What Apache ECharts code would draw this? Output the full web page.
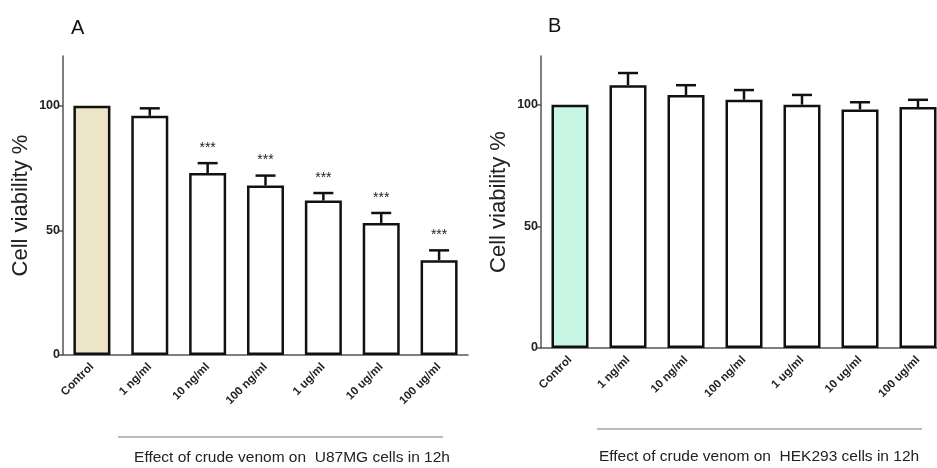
<!DOCTYPE html>
<html>
<head>
<meta charset="utf-8">
<script src="https://cdn.jsdelivr.net/npm/echarts@6/dist/echarts.min.js"></script>
<style>
html,body{margin:0;padding:0;background:#fff;overflow:hidden;}
#chart{width:960px;height:468px;}
</style>
</head>
<body>
<div id="chart"></div>
<script>
const categories = ['Control', '1 ng/ml', '10 ng/ml', '100 ng/ml', '1 ug/ml', '10 ug/ml', '100 ug/ml'];
const viabilityA = [100, 96, 73, 68, 62, 53, 38];
const errorA = [0, 3, 4, 4, 3, 4, 4];
const signifA = ['', '', '***', '***', '***', '***', '***'];
const viabilityB = [100, 108, 104, 102, 100, 98, 99];
const errorB = [0, 5, 4, 4, 4, 3, 3];
const signifB = ['', '', '', '', '', '', ''];
const yTicks = [0, 50, 100];
const panelTitles = ['A', 'B'];
const captions = ['Effect of crude venom on  U87MG cells in 12h', 'Effect of crude venom on  HEK293 cells in 12h'];
const yName = 'Cell viability %';

const FONT = 'Liberation Sans, Arial, sans-serif';
const axisColor = '#555';

function xAxisCfg(gi) {
  return {
    type: 'category', gridIndex: gi, data: categories,
    axisLine: { lineStyle: { color: axisColor, width: 1.5 } },
    axisTick: { alignWithLabel: true, length: 6, lineStyle: { color: axisColor, width: 1.5 } },
    axisLabel: { rotate: 45, margin: 10, fontFamily: FONT, fontWeight: 'bold', fontSize: 11.5, color: '#222', interval: 0 }
  };
}
function yAxisCfg(gi) {
  return {
    type: 'value', gridIndex: gi, min: 0, max: 120,
    name: yName, nameLocation: 'middle', nameGap: 31,
    nameTextStyle: { fontFamily: FONT, fontSize: 22, color: '#222' },
    splitLine: { show: false },
    axisLine: { show: true, lineStyle: { color: axisColor, width: 1.5 } },
    axisTick: { show: true, length: 5, customValues: yTicks, lineStyle: { color: axisColor, width: 1.5 } },
    axisLabel: { customValues: yTicks, margin: 3, fontFamily: FONT, fontWeight: 'bold', fontSize: 12.5, color: '#222' }
  };
}
function barSeries(gi, vals, ctrlColor) {
  return {
    type: 'bar', xAxisIndex: gi, yAxisIndex: gi, barWidth: 37,
    itemStyle: { color: '#fff', borderColor: '#111', borderWidth: 2.5 },
    data: vals.map((v, i) => i === 0 ? { value: v, itemStyle: { color: ctrlColor } } : v),
    z: 2
  };
}
function errSeries(gi, vals, errs, sig) {
  return {
    type: 'custom', xAxisIndex: gi, yAxisIndex: gi, z: 3,
    data: vals.map((v, i) => [i, v, errs[i]]),
    renderItem: function (params, api) {
      const x = api.value(0), v = api.value(1), e = api.value(2);
      const children = [];
      const p0 = api.coord([x, v]);
      const p1 = api.coord([x, v + e]);
      if (e > 0) {
        children.push({ type: 'line', shape: { x1: p0[0], y1: p0[1], x2: p1[0], y2: p1[1] }, style: { stroke: '#111', lineWidth: 2.5 } });
        children.push({ type: 'line', shape: { x1: p1[0] - 10, y1: p1[1], x2: p1[0] + 10, y2: p1[1] }, style: { stroke: '#111', lineWidth: 2.5 } });
      }
      const s = sig[params.dataIndex];
      if (s) {
        children.push({ type: 'text', style: { text: s, x: p1[0], y: p1[1] - 8, align: 'center', verticalAlign: 'bottom', fontFamily: FONT, fontSize: 14, fill: '#222' } });
      }
      return { type: 'group', children: children };
    }
  };
}

const chart = echarts.init(document.getElementById('chart'), null, { renderer: 'canvas' });
chart.setOption({
  animation: false,
  backgroundColor: '#fff',
  title: [
    { text: panelTitles[0], left: 66, top: 13, textStyle: { fontFamily: FONT, fontSize: 20, fontWeight: 'normal', color: '#111' } },
    { text: panelTitles[1], left: 543, top: 11, textStyle: { fontFamily: FONT, fontSize: 20, fontWeight: 'normal', color: '#111' } }
  ],
  grid: [
    { left: 63, top: 56, width: 405, height: 299 },
    { left: 541, top: 56, width: 406, height: 292 }
  ],
  xAxis: [xAxisCfg(0), xAxisCfg(1)],
  yAxis: [yAxisCfg(0), yAxisCfg(1)],
  series: [
    barSeries(0, viabilityA, '#ece5c8'),
    errSeries(0, viabilityA, errorA, signifA),
    barSeries(1, viabilityB, '#c9f5e4'),
    errSeries(1, viabilityB, errorB, signifB)
  ],
  graphic: [
    { type: 'line', shape: { x1: 118, y1: 437, x2: 443, y2: 437 }, style: { stroke: '#777', lineWidth: 1.2 } },
    { type: 'line', shape: { x1: 597, y1: 429, x2: 922, y2: 429 }, style: { stroke: '#777', lineWidth: 1.2 } },
    { type: 'text', x: 292, y: 458, style: { text: captions[0], align: 'center', verticalAlign: 'middle', fontFamily: FONT, fontSize: 15.5, fill: '#222' } },
    { type: 'text', x: 759, y: 457, style: { text: captions[1], align: 'center', verticalAlign: 'middle', fontFamily: FONT, fontSize: 15.5, fill: '#222' } }
  ]
});
</script>
</body>
</html>
